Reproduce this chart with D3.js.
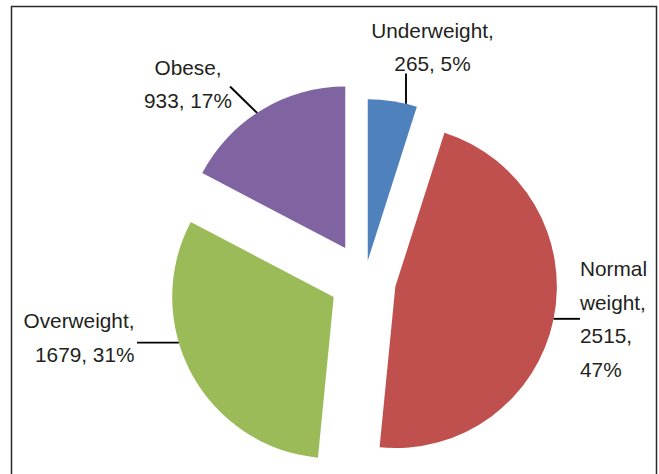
<!DOCTYPE html>
<html>
<head>
<meta charset="utf-8">
<script src="https://cdn.jsdelivr.net/npm/d3@7"></script>
<style>
  html, body { margin: 0; padding: 0; background: #fff; }
  svg { display: block; }
  text { font-family: "Liberation Sans", Arial, sans-serif; font-size: 20.8px; fill: #231f20; }
</style>
</head>
<body>
<svg id="chart" width="659" height="474"></svg>
<script>
// BMI categories and respondent counts
const categories = ["Underweight", "Normal weight", "Overweight", "Obese"];
const counts = [265, 2515, 1679, 933];
const colors = ["#4f81bd", "#c0504d", "#9bbb59", "#8064a2"];

const W = 659, H = 474;
const svg = d3.select("#chart");

// chart frame (runs past the bottom edge)
svg.append("rect")
  .attr("x", 11.5).attr("y", 6.5)
  .attr("width", 645).attr("height", 520)
  .attr("fill", "#fff")
  .attr("stroke", "#2b2b2b")
  .attr("stroke-width", 1.5);

const radius = 161.5;
const cx = 364.7, cy = 280.3;
// how far each slice is pulled out from the centre
const explode = [19.8, 31.3, 35.2, 37.6];

const total = d3.sum(counts);
const pie = d3.pie().sort(null).value(d => d.value);
const arcs = pie(categories.map((c, i) => ({ name: c, value: counts[i], i })));
const arc = d3.arc().innerRadius(0).outerRadius(radius);

const unit = a => [Math.sin(a), -Math.cos(a)];
const apex = arcs.map((a, i) => {
  const [ux, uy] = unit((a.startAngle + a.endAngle) / 2);
  return [cx + explode[i] * ux, cy + explode[i] * uy];
});

svg.append("g").selectAll("path")
  .data(arcs)
  .join("path")
  .attr("transform", (d, i) => `translate(${apex[i][0]},${apex[i][1]})`)
  .attr("d", arc)
  .attr("fill", (d, i) => colors[i]);

// data labels: "Category, count, pct%" wrapped to a box width
const labelLayout = [
  { anchor: "middle", x: 432.5, y: 37.5, wrap: 128, leaderDeg: 13.7, leader: "vertical", ly: 73.5 },
  { anchor: "start",  x: 580,   y: 276,  wrap: 75,  leaderDeg: 101.5, leader: "horizontal", lx: 580 },
  { anchor: "end",    x: 134.5, y: 328.3, wrap: 125, leaderDeg: 253.6, leader: "horizontal", lx: 137 },
  { anchor: "middle", x: 188,   y: 74.5, wrap: 100, leaderDeg: 326.9, leader: "free", lx: 230, ly: 86.5 }
];
const lineHeight = 33.5;

const measure = svg.append("text").attr("visibility", "hidden");
function textWidth(s) { measure.text(s); return measure.node().getComputedTextLength(); }
function wrapText(str, maxW) {
  const words = str.split(" ");
  const lines = [];
  let cur = "";
  words.forEach(w => {
    const trial = cur ? cur + " " + w : w;
    if (cur && textWidth(trial) > maxW) { lines.push(cur); cur = w; }
    else cur = trial;
  });
  if (cur) lines.push(cur);
  return lines;
}

const labels = svg.append("g");
arcs.forEach((a, i) => {
  const L = labelLayout[i];
  const pct = Math.round(a.value / total * 100);
  const str = `${a.data.name}, ${a.value}, ${pct}%`;
  const lines = wrapText(str, L.wrap);
  const t = labels.append("text").attr("text-anchor", L.anchor);
  lines.forEach((ln, k) => {
    t.append("tspan").attr("x", L.x).attr("y", L.y + k * lineHeight).text(ln);
  });

  // leader line from the label to the slice edge
  const ang = L.leaderDeg * Math.PI / 180;
  const [ux, uy] = unit(ang);
  const px = apex[i][0] + radius * ux, py = apex[i][1] + radius * uy;
  let sx, sy;
  if (L.leader === "vertical") { sx = px; sy = L.ly; }
  else if (L.leader === "horizontal") { sx = L.lx; sy = py; }
  else { sx = L.lx; sy = L.ly; }
  labels.append("line")
    .attr("x1", sx).attr("y1", sy).attr("x2", px).attr("y2", py)
    .attr("stroke", "#000").attr("stroke-width", 1.9);
});
measure.remove();
</script>
</body>
</html>
